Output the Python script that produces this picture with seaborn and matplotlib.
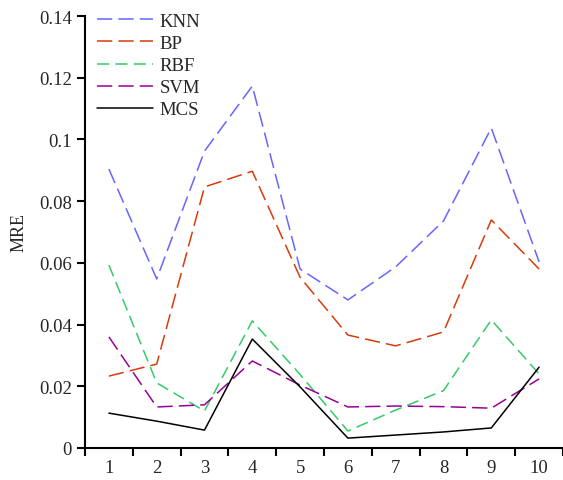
import matplotlib
matplotlib.use("Agg")
import matplotlib.pyplot as plt
import seaborn as sns
import pandas as pd
from matplotlib.ticker import FixedLocator, FixedFormatter

# 数据
samples = [1, 2, 3, 4, 5, 6, 7, 8, 9, 10]
knn = [0.0904, 0.0548, 0.0962, 0.1173, 0.0580, 0.0480, 0.0587, 0.0736, 0.1037, 0.0603]
bp = [0.0233, 0.0272, 0.0846, 0.0897, 0.0553, 0.0366, 0.0331, 0.0376, 0.0739, 0.0580]
rbf = [0.0593, 0.0211, 0.0120, 0.0412, 0.0238, 0.0055, 0.0123, 0.0186, 0.0415, 0.0240]
svm = [0.0360, 0.0133, 0.0140, 0.0282, 0.0204, 0.0133, 0.0136, 0.0134, 0.0129, 0.0224]
mcs = [0.0113, 0.0087, 0.0058, 0.0353, 0.0198, 0.0032, 0.0042, 0.0052, 0.0065, 0.0262]
y_ticks = [0, 0.02, 0.04, 0.06, 0.08, 0.1, 0.12, 0.14]
y_labels = ["0", "0.02", "0.04", "0.06", "0.08", "0.1", "0.12", "0.14"]

sns.set_style("white")
plt.rcParams['font.family'] = ['Liberation Serif', 'DejaVu Serif']

fig = plt.figure(figsize=(5.63, 4.81), dpi=100)
ax = fig.add_axes([85 / 563, 1 - 449 / 481, 478 / 563, 432 / 481])

series = [
    ("KNN", knn, "#6666ff", (0, (10, 4))),
    ("BP", bp, "#d83b0b", (0, (10, 4))),
    ("RBF", rbf, "#33cc66", (0, (8, 4))),
    ("SVM", svm, "#990099", (0, (10, 4))),
    ("MCS", mcs, "black", "-"),
]
for name, vals, col, ls in series:
    df = pd.DataFrame({"x": samples, "y": vals})
    sns.lineplot(data=df, x="x", y="y", color=col, linestyle=ls,
                 linewidth=1.1, label=name, ax=ax)

ax.set_xlim(0.5, 10.5)
ax.set_ylim(0, 0.14)
ax.xaxis.set_major_locator(FixedLocator(samples))
ax.xaxis.set_major_formatter(FixedFormatter([str(s) for s in samples]))
ax.xaxis.set_minor_locator(FixedLocator([s + 0.5 for s in [0] + samples]))
ax.tick_params(axis="x", which="major", length=0, labelsize=13.5, pad=8)
ax.tick_params(axis="x", which="minor", length=6, width=1.5, direction="out", color="black")
ax.yaxis.set_major_locator(FixedLocator(y_ticks))
ax.yaxis.set_major_formatter(FixedFormatter(y_labels))
ax.tick_params(axis="y", length=6, width=1.5, direction="out", labelsize=13.5, color="black")
ax.tick_params(bottom=False, left=True)
ax.tick_params(axis="x", which="minor", bottom=True)

for s in ["top", "right"]:
    ax.spines[s].set_visible(False)
for s in ["left", "bottom"]:
    ax.spines[s].set_color("black")
    ax.spines[s].set_linewidth(1.5)

ax.set_xlabel("")
ax.set_ylabel("MRE", fontsize=13, labelpad=8)

ax.legend(loc="upper left", bbox_to_anchor=(-0.01, 1.047), frameon=False,
          fontsize=13.5, handlelength=3.0, labelspacing=0.27, handletextpad=0.35)

fig.savefig("out.png", dpi=100)
